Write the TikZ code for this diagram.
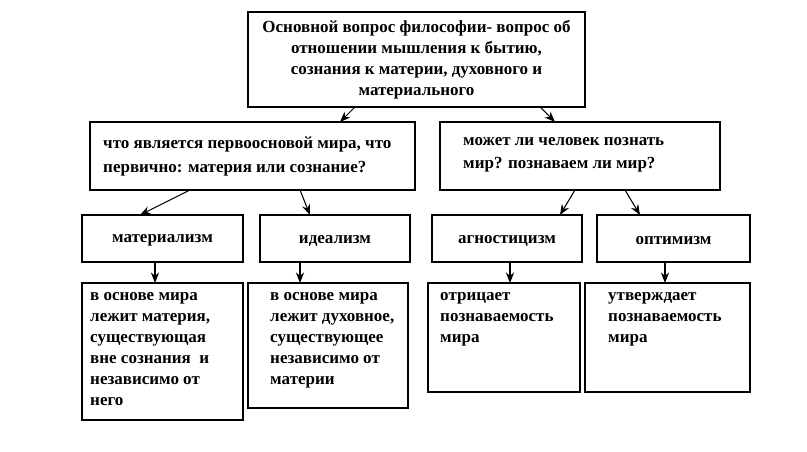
\documentclass[tikz,border=0pt]{standalone}
\usepackage{fontspec}
\setmainfont{Liberation Serif}
\usetikzlibrary{arrows.meta}
\begin{document}
\begin{tikzpicture}[x=0.03cm,y=-0.03cm,
	frame/.style={draw,line width=1.2pt},
	txt/.style={inner sep=0pt,align=left,anchor=north west,font=\bfseries\fontsize{14.5pt}{18pt}\selectfont},
	arr/.style={-{Stealth[length=9pt,width=7pt]},line width=0.9pt}]
	\useasboundingbox (0,0) rectangle (807,452);

	% frames
	\draw[frame] (248,12) rectangle (585,107);
	\draw[frame] (90,122) rectangle (415,190);
	\draw[frame] (440,122) rectangle (720,190);
	\draw[frame] (82,215) rectangle (243,262);
	\draw[frame] (260,215) rectangle (410,262);
	\draw[frame] (432,215) rectangle (582,262);
	\draw[frame] (597,215) rectangle (750,262);
	\draw[frame] (82,283) rectangle (243,420);
	\draw[frame] (248,283) rectangle (408,408);
	\draw[frame] (428,283) rectangle (580,392);
	\draw[frame] (585,283) rectangle (750,392);

	% texts
	\node[txt,align=center,anchor=north] (top) at (416.5,20)
		{Основной вопрос философии- вопрос об\\отношении мышления к бытию,\\сознания к материи, духовного и\\материального};
	\node[txt,font=\bfseries\fontsize{14.5pt}{20pt}\selectfont] (q1) at (103,137) {что является первоосновой мира, что\\первично: материя или сознание?};
	\node[txt,font=\bfseries\fontsize{14.5pt}{20pt}\selectfont] (q2) at (463,137) {может ли человек познать\\мир? познаваем ли мир?};
	\node[txt,anchor=center] (mat) at (162.5,240.5) {материализм};
	\node[txt,anchor=center] (ide) at (335,240.5) {идеализм};
	\node[txt,anchor=center] (agn) at (507,240.5) {агностицизм};
	\node[txt,anchor=center] (opt) at (673.5,240.5) {оптимизм};
	\node[txt] (matd) at (90,292) {в основе мира\\лежит материя,\\существующая\\вне сознания \ и\\независимо от\\него};
	\node[txt] (ided) at (270,292) {в основе мира\\лежит духовное,\\существующее\\независимо от\\материи};
	\node[txt] (agnd) at (440,292) {отрицает\\познаваемость\\мира};
	\node[txt] (optd) at (608,292) {утверждает\\познаваемость\\мира};

	% arrows
	\draw[arr] (355,107) -- (340,122);
	\draw[arr] (540,107) -- (555,122);
	\draw[arr] (190,190) -- (140,215);
	\draw[arr] (300,190) -- (310,215);
	\draw[arr] (575,190) -- (560,215);
	\draw[arr] (625,190) -- (640,215);
	\draw[arr] (155,262) -- (155,283);
	\draw[arr] (300,262) -- (300,283);
	\draw[arr] (510,262) -- (510,283);
	\draw[arr] (665,262) -- (665,283);
\end{tikzpicture}
\end{document}
